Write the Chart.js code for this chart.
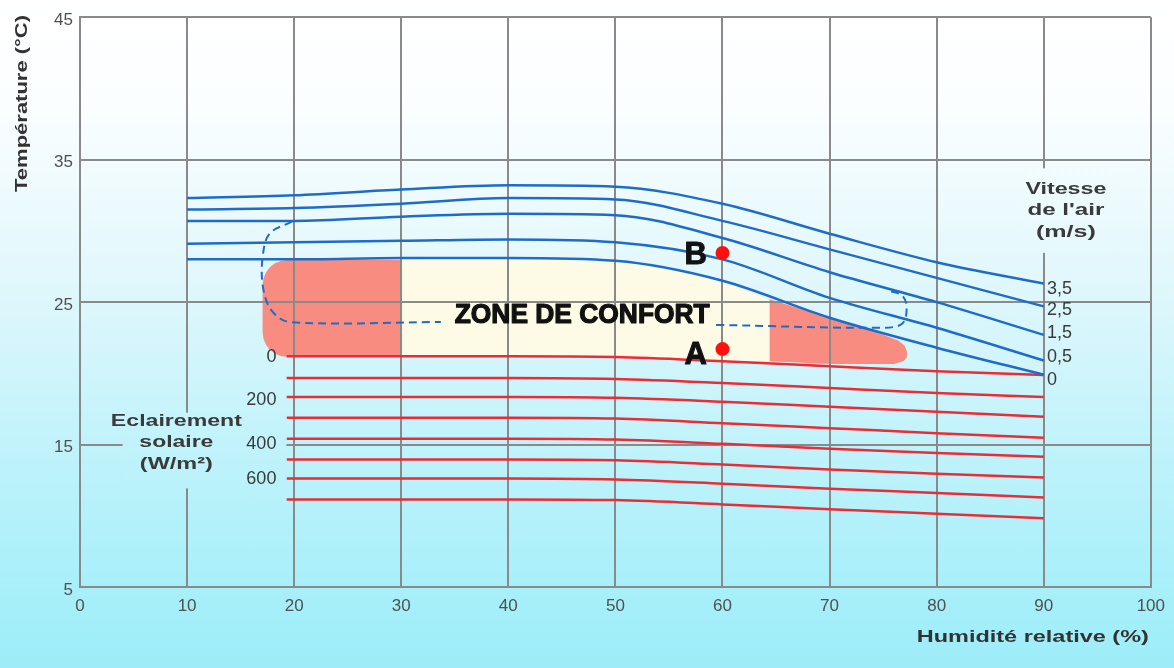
<!DOCTYPE html>
<html>
<head>
<meta charset="utf-8">
<script src="https://cdn.jsdelivr.net/npm/chart.js@4.4.1/dist/chart.umd.min.js"></script>
<style>
    html, body { margin: 0; padding: 0; }
    body { width: 1174px; height: 668px; overflow: hidden; }
    #wrap { position: relative; width: 1174px; height: 668px; }
</style>
</head>
<body>
<div id="wrap"><canvas id="comfortChart"></canvas></div>
<script>
// Axes
const humidityTicks = [0, 10, 20, 30, 40, 50, 60, 70, 80, 90, 100];
const temperatureTicks = [5, 15, 25, 35, 45];

// Air speed curves (m/s) - temperature at each humidity
const airSpeedLabels = ['3,5', '2,5', '1,5', '0,5', '0'];
const airHumidity = [10, 20, 30, 40, 50, 60, 70, 80, 90];
const air35 = [32.3, 32.5, 32.9, 33.2, 33.1, 31.9, 29.8, 27.8, 26.3];
const air25 = [31.5, 31.6, 31.9, 32.3, 32.2, 30.7, 28.7, 26.7, 24.7];
const air15 = [30.7, 30.7, 31.0, 31.2, 31.1, 29.5, 27.1, 25.0, 22.7];
const air05 = [29.1, 29.2, 29.3, 29.4, 29.2, 28.0, 25.3, 23.2, 20.9];
const air0 = [28.0, 28.0, 28.1, 28.1, 27.9, 26.5, 23.9, 21.8, 19.9];

// Solar radiation curves (W/m2), one every 100
const solarLabels = ['0', '200', '400', '600'];
const solarHumidity = [19.3, 30, 40, 50, 60, 70, 80, 90];
const solar0 = [21.2, 21.2, 21.2, 21.15, 20.85, 20.5, 20.15, 19.88];
const solar100 = [19.67, 19.67, 19.67, 19.6, 19.32, 18.97, 18.62, 18.34];
const solar200 = [18.34, 18.34, 18.34, 18.28, 18.0, 17.65, 17.3, 16.95];
const solar300 = [16.88, 16.88, 16.88, 16.82, 16.5, 16.15, 15.8, 15.48];
const solar400 = [15.41, 15.41, 15.41, 15.35, 15.05, 14.7, 14.4, 14.15];
const solar500 = [13.95, 13.95, 13.95, 13.9, 13.6, 13.25, 12.95, 12.69];
const solar600 = [12.62, 12.62, 12.62, 12.55, 12.25, 11.9, 11.6, 11.29];
const solar700 = [11.15, 11.15, 11.15, 11.1, 10.8, 10.45, 10.15, 9.83];

// Comfort zone outlines
const creamX = [29.5, 40, 50, 55, 60, 64.8, 64.8, 60, 55, 50, 29.5];
const creamY = [28.0, 28.05, 27.85, 27.35, 26.45, 25.05, 20.85, 20.9, 21.05, 21.15, 21.15];
const pinkLeftX = [30, 19.35, 18.75, 18.2, 17.72, 17.36, 17.13, 17.05, 17.05, 17.13, 17.36, 17.72, 18.2, 18.75, 19.35, 30];
const pinkLeftY = [27.95, 27.95, 27.89, 27.72, 27.44, 27.08, 26.65, 26.2, 22.9, 22.45, 22.03, 21.66, 21.38, 21.21, 21.15, 21.15];
const pinkRightX = [64.4, 67, 70, 73, 75, 76.4, 77.0, 77.25, 77.2, 76.9, 76.0, 70, 64.4];
const pinkRightY = [25.2, 24.6, 23.9, 23.2, 22.7, 22.3, 21.95, 21.5, 21.1, 20.85, 20.65, 20.65, 20.85];
// dashed extended zone (null = hidden behind the title)
const dashX = [19.8, 17.7, 17.05, 17.1, 17.9, 19.6, 33.7, 46, 59.4, 75.0, 76.8, 77.2, 76.8, 75.5];
const dashY = [30.65, 29.8, 28.1, 26.0, 24.4, 23.6, 23.6, null, 23.4, 23.2, 23.5, 24.6, 25.45, 25.8];

// Points A and B
const pointNames = ['A', 'B'];
const pointHumidity = [60, 60];
const pointTemp = [21.7, 28.45];

const bgStops = [[0, '#ffffff'], [0.15, '#fbfeff'], [0.4, '#e3f8fc'], [0.65, '#c3f3fb'], [0.85, '#abf0fa'], [1, '#9cedf9']];
document.body.style.background = 'linear-gradient(to bottom, ' +
    bgStops.map(s => s[1] + ' ' + (s[0] * 100) + '%').join(', ') + ')';

const BLUE = '#1f6cc8';
const RED = '#ea2c36';
const GRID = '#8a8a8a';
const TEXT = '#3a3a3a';

const toPoints = (xs, ys) => xs.map((x, i) => ({ x: x, y: ys[i] }));

function curve(xs, ys, color, width) {
    return {
        data: toPoints(xs, ys),
        showLine: true,
        borderColor: color,
        borderWidth: width,
        pointRadius: 0,
        cubicInterpolationMode: 'monotone',
        fill: false
    };
}

function shape(xs, ys, color) {
    return {
        data: toPoints(xs, ys),
        showLine: true,
        borderColor: 'transparent',
        borderWidth: 0,
        backgroundColor: color,
        pointRadius: 0,
        tension: 0,
        fill: 'shape'
    };
}

function drawText(ctx, str, x, y, font, color, align, width, stroke) {
    ctx.save();
    ctx.font = font;
    ctx.fillStyle = color;
    ctx.textAlign = align || 'center';
    ctx.textBaseline = 'middle';
    ctx.translate(x, y);
    if (width) {
        const w = ctx.measureText(str).width;
        ctx.scale(width / w, 1);
    }
    if (stroke) {
        ctx.strokeStyle = color;
        ctx.lineWidth = stroke;
        ctx.lineJoin = 'round';
        ctx.strokeText(str, 0, 0);
    }
    ctx.fillText(str, 0, 0);
    ctx.restore();
}

// text and label boxes, in data units
const annotations = {
    plugin: {
        id: 'annotations',
        afterDatasetsDraw(chart) {
            const ctx = chart.ctx;
            const xs = chart.scales.x, ys = chart.scales.y;
            const px = v => xs.getPixelForValue(v);
            const py = v => ys.getPixelForValue(v);

            const grad = ctx.createLinearGradient(0, 0, 0, chart.height);
            bgStops.forEach(s => grad.addColorStop(s[0], s[1]));

            // clear grid behind side labels
            ctx.save();
            ctx.fillStyle = grad;
            ctx.fillRect(px(3.98), py(17.24), px(19.27) - px(3.98), py(11.92) - py(17.24));
            ctx.fillRect(px(87.7), py(34.39), px(96.6) - px(87.7), py(28.46) - py(34.39));
            ctx.restore();

            const bold = s => 'bold ' + s + 'px "Liberation Sans", Arial, sans-serif';
            const reg = s => s + 'px "Liberation Sans", Arial, sans-serif';

            drawText(ctx, 'ZONE DE CONFORT', px(46.9), py(24.06), bold(27), '#111', 'center', 255, 1.2);
            drawText(ctx, pointNames[0], px(57.5), py(21.27), bold(31), '#111', 'center', null, 1);
            drawText(ctx, pointNames[1], px(57.5), py(28.25), bold(31), '#111', 'center', null, 1);

            const speedY = [25.95, 24.41, 22.81, 21.13, 19.53];
            airSpeedLabels.forEach((l, i) => drawText(ctx, l, px(90.3), py(speedY[i]), reg(18), TEXT, 'left'));
            drawText(ctx, 'Vitesse', px(92.07), py(32.93), bold(16), TEXT, 'center', 81);
            drawText(ctx, "de l'air", px(92.07), py(31.39), bold(16), TEXT, 'center', 77);
            drawText(ctx, '(m/s)', px(92.07), py(29.86), bold(16), TEXT, 'center', 60);

            const solarY = [21.13, 18.13, 15.06, 12.55];
            solarLabels.forEach((l, i) => drawText(ctx, l, px(18.34), py(solarY[i]), reg(18), TEXT, 'right'));
            drawText(ctx, 'Eclairement', px(9.0), py(16.6), bold(17), TEXT, 'center', 131);
            drawText(ctx, 'solaire', px(9.0), py(15.13), bold(17), TEXT, 'center', 74);
            drawText(ctx, '(W/m²)', px(9.0), py(13.6), bold(17), TEXT, 'center', 73);

            // axis titles
            ctx.save();
            ctx.translate(22, (chart.chartArea.top + py(35)) / 2 + 15);
            ctx.rotate(-Math.PI / 2);
            drawText(ctx, 'Température (°C)', 0, 0, bold(17), '#333', 'center', 177);
            ctx.restore();
            drawText(ctx, 'Humidité relative (%)', chart.chartArea.right - 2, chart.chartArea.bottom + 50, bold(17), '#333', 'right', 232);
        }
    }
};

Chart.defaults.font.family = '"Liberation Sans", Arial, sans-serif';

const datasets = [
    {
        data: toPoints(pointHumidity, pointTemp),
        showLine: false,
        pointRadius: 7,
        pointBackgroundColor: '#ff1010',
        pointBorderWidth: 0
    },
    curve(airHumidity, air35, BLUE, 2.5),
    curve(airHumidity, air25, BLUE, 2.5),
    curve(airHumidity, air15, BLUE, 2.5),
    curve(airHumidity, air05, BLUE, 2.5),
    curve(airHumidity, air0, BLUE, 2.5),
    {
        data: toPoints(dashX, dashY),
        showLine: true,
        borderColor: BLUE,
        borderWidth: 2,
        borderDash: [8, 5],
        pointRadius: 0,
        tension: 0.35,
        spanGaps: false,
        fill: false
    },
    curve(solarHumidity, solar0, RED, 2.5),
    curve(solarHumidity, solar100, RED, 2.5),
    curve(solarHumidity, solar200, RED, 2.5),
    curve(solarHumidity, solar300, RED, 2.5),
    curve(solarHumidity, solar400, RED, 2.5),
    curve(solarHumidity, solar500, RED, 2.5),
    curve(solarHumidity, solar600, RED, 2.5),
    curve(solarHumidity, solar700, RED, 2.5),
    shape(pinkLeftX, pinkLeftY, '#f98c80'),
    shape(pinkRightX, pinkRightY, '#f98c80'),
    shape(creamX, creamY, '#fdfbe6')
];

new Chart(document.getElementById('comfortChart'), {
    type: 'scatter',
    data: { datasets: datasets },
    options: {
        responsive: true,
        maintainAspectRatio: false,
        animation: false,
        events: [],
        layout: { padding: { top: 15, right: 22, left: 0, bottom: 0 } },
        plugins: {
            legend: { display: false },
            tooltip: { enabled: false },
            filler: { drawTime: 'beforeDraw' }
        },
        scales: {
            x: {
                type: 'linear',
                min: 0,
                max: 100,
                afterBuildTicks: s => { s.ticks = humidityTicks.map(v => ({ value: v })); },
                afterFit: s => { s.height = 81; },
                grid: { color: GRID, lineWidth: 2, drawTicks: false },
                border: { color: GRID, width: 2 },
                ticks: { color: '#505050', font: { size: 17 }, padding: 9, maxRotation: 0 }
            },
            y: {
                type: 'linear',
                min: 5,
                max: 45,
                afterBuildTicks: s => { s.ticks = temperatureTicks.map(v => ({ value: v })); },
                afterFit: s => { s.width = 80; },
                grid: { color: GRID, lineWidth: 2, drawTicks: false },
                border: { color: GRID, width: 2 },
                ticks: { color: '#505050', font: { size: 17 }, padding: 7, labelOffset: 3 }
            }
        }
    },
    plugins: [annotations.plugin]
});
</script>
</body>
</html>
